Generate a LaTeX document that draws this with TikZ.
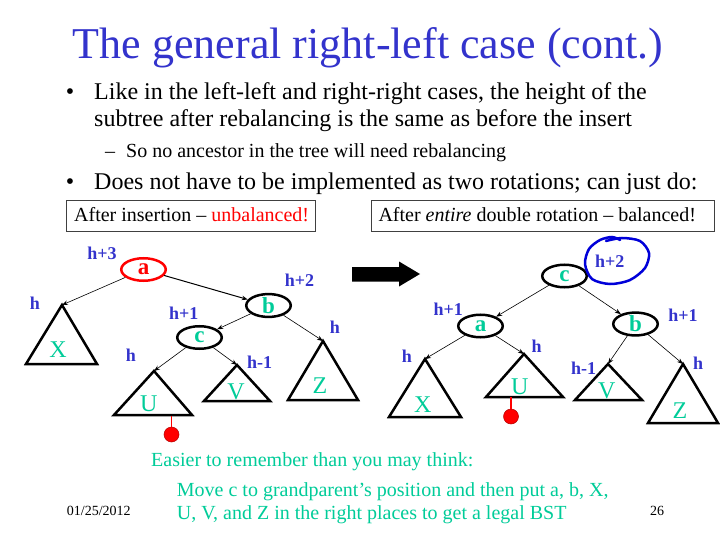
\documentclass[tikz,border=0pt]{standalone}
\usepackage{fontspec}
\setmainfont{Liberation Serif}
\usetikzlibrary{arrows.meta,shapes.geometric}
\definecolor{tblue}{RGB}{51,51,204}
\definecolor{tgreen}{RGB}{0,204,153}
\definecolor{tred}{RGB}{255,0,0}
\begin{document}
\begin{tikzpicture}[x=1pt,y=-1pt,
  every node/.style={inner sep=0pt},
  nd/.style={ellipse, draw, line width=2.5pt, minimum width=44.5pt, minimum height=22.5pt, text=tgreen, font=\fontsize{23}{24}\selectfont\bfseries},
  tri/.style={draw, line width=2.5pt, line join=miter},
  conn/.style={-{Stealth[length=6pt,width=4.5pt]}, line width=0.6pt},
  hl/.style={text=tblue, font=\fontsize{18}{20}\selectfont\bfseries},
  lt/.style={text=tgreen, font=\fontsize{24}{26}\selectfont},
  body/.style={anchor=base west, font=\fontsize{24}{28}\selectfont},
  bul/.style={anchor=base, font=\fontsize{24}{28}\selectfont},
  boxed/.style={draw=black!75, line width=0.8pt},
  boxtxt/.style={anchor=base west, font=\fontsize{20}{24}\selectfont},
  gtxt/.style={anchor=base west, text=tgreen, font=\fontsize{20}{24}\selectfont},
  foot/.style={anchor=base west, font=\fontsize{14}{16}\selectfont},
  dotline/.style={draw=tred, line width=1.5pt},
  dot/.style={fill=tred, draw=tred!70!black, line width=0.5pt}
]
\useasboundingbox (0,0) rectangle (720,540);
\fill[white] (0,0) rectangle (720,540);

% title and text
\node[anchor=base, text=tblue, font=\fontsize{44}{50}\selectfont] (title) at (368,59) {The general right-left case (cont.)};
\node[bul] (b1) at (70,99.3) {•};
\node[body] (t1) at (94,99.3) {Like in the left-left and right-right cases, the height of the};
\node[body] (t2) at (94,126.3) {subtree after rebalancing is the same as before the insert};
\node[anchor=base, font=\fontsize{20}{24}\selectfont] (d1) at (110,157.3) {–};
\node[anchor=base west, font=\fontsize{20}{24}\selectfont] (t3) at (126,157.3) {So no ancestor in the tree will need rebalancing};
\node[bul] (b2) at (70,190) {•};
\node[body] (t4) at (94,190) {Does not have to be implemented as two rotations; can just do:};

% boxes
\draw[boxed] (66.7,200) rectangle (315,231);
\node[boxtxt] (bx1) at (74,221.7) {After insertion – \textcolor{tred}{unbalanced!}};
\draw[boxed] (371.7,200) rectangle (714,231);
\node[boxtxt] (bx2) at (378.3,221.7) {After \textit{entire} double rotation – balanced!};

% left tree
\node[nd, draw=tred, text=tred] (la) at (143.5,269.5) {a};
\node[nd] (lb) at (268.5,305.5) {b};
\node[nd] (lc) at (199.5,337.5) {c};
\coordinate (lXt) at (62,305);
\coordinate (lUt) at (154,371);
\coordinate (lVt) at (237,365);
\coordinate (lZt) at (323,341);
\draw[tri] (lXt) -- (26,364) -- (97,364) -- cycle;
\draw[tri] (lUt) -- (114,415) -- (192,415) -- cycle;
\draw[tri] (lVt) -- (204,401) -- (270,401) -- cycle;
\draw[tri] (lZt) -- (288,400) -- (358,400) -- cycle;
\node[lt] (lX) at (58,350) {X};
\node[lt] (lU) at (148.7,403.7) {U};
\node[lt] (lV) at (236,392) {V};
\node[lt] (lZ) at (320,385.3) {Z};
\draw[conn] (la) -- (lXt);
\draw[conn, line width=1pt] (la) -- (lb);
\draw[conn] (lb) -- (lc);
\draw[conn] (lb) -- (lZt);
\draw[conn] (lc) -- (lUt);
\draw[conn] (lc) -- (lVt);
\node[hl] (lh3) at (102,253) {h+3};
\node[hl] (lhX) at (35,303) {h};
\node[hl] (lh2) at (299.5,280) {h+2};
\node[hl] (lh1) at (183.7,313) {h+1};
\node[hl] (lhU) at (131,355) {h};
\node[hl] (lhV) at (259.7,362) {h-1};
\node[hl] (lhZ) at (335,327) {h};
\coordinate (lUb) at (171.5,416);
\node[dot, circle, minimum size=15pt] (ldot) at (171.5,434.5) {};
\draw[dotline] (lUb) -- (ldot.north);

% big arrow
\fill (352,267) -- (399,267) -- (399,261.5) -- (420,274) -- (399,286.5) -- (399,281.5) -- (352,281.5) -- cycle;

% right tree
\node[nd] (rc) at (564.5,276) {c};
\node[nd] (ra) at (480.5,326) {a};
\node[nd] (rb) at (635.5,324) {b};
\coordinate (rXt) at (425,359);
\coordinate (rUt) at (524,354);
\coordinate (rVt) at (608,364);
\coordinate (rZt) at (683,364);
\draw[tri] (rXt) -- (389,417) -- (461,417) -- cycle;
\draw[tri] (rUt) -- (486,397) -- (563,397) -- cycle;
\draw[tri] (rVt) -- (575,400) -- (642,400) -- cycle;
\draw[tri] (rZt) -- (648,423) -- (718,423) -- cycle;
\node[lt] (rX) at (422.7,404.7) {X};
\node[lt] (rU) at (519.7,386.7) {U};
\node[lt] (rV) at (606.7,391) {V};
\node[lt] (rZ) at (680,410.8) {Z};
\draw[conn] (rc) -- (ra);
\draw[conn] (rc) -- (rb);
\draw[conn] (ra) -- (rXt);
\draw[conn] (ra) -- (rUt);
\draw[conn] (rb) -- (rVt);
\draw[conn] (rb) -- (rZt);
\node[hl] (rh2) at (609.7,261.7) {h+2};
\node[hl] (rh1a) at (448.3,309.3) {h+1};
\node[hl] (rh1b) at (683,315) {h+1};
\node[hl] (rhX) at (407,356.7) {h};
\node[hl] (rhU) at (536.7,345.8) {h};
\node[hl] (rhV) at (583.7,368.3) {h-1};
\node[hl] (rhZ) at (698,363.7) {h};
\coordinate (rUb) at (511,397);
\node[dot, circle, minimum size=15pt] (rdot) at (511,416.5) {};
\draw[dotline] (rUb) -- (rdot.north);
\draw[blue!85!black, line width=2.5pt, line cap=round] plot[smooth] coordinates {(606,241) (622,238) (640,241) (649,253) (645,268) (630,280) (610,284) (592,279) (585,264) (589,249) (600,240) (612,237) (620,240)};

% bottom text
\node[gtxt] (e1) at (151,466.7) {Easier to remember than you may think:};
\node[gtxt] (e2) at (176.7,496.7) {Move c to grandparent’s position and then put a, b, X,};
\node[gtxt] (e3) at (176.7,519) {U, V, and Z in the right places to get a legal BST};
\node[foot] (date) at (66.7,515.7) {01/25/2012};
\node[foot] (pg) at (650,515.7) {26};
\end{tikzpicture}
\end{document}
